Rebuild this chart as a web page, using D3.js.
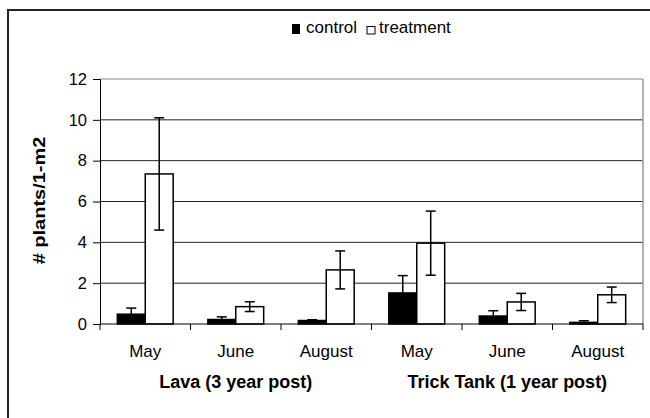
<!DOCTYPE html>
<html>
<head>
<meta charset="utf-8">
<script src="https://cdn.jsdelivr.net/npm/d3@7"></script>
<style>
  body { margin: 0; background: #fff; }
  text { font-family: "Liberation Sans", Arial, sans-serif; }
</style>
</head>
<body>
<svg id="chart" width="650" height="418"></svg>
<script>
var months = ["May", "June", "August", "May", "June", "August"];
var sites = ["Lava (3 year post)", "Trick Tank (1 year post)"];
var series = ["control", "treatment"];
var controlVals = [0.48, 0.22, 0.17, 1.52, 0.39, 0.08];
var controlErr = [0.3, 0.13, 0.04, 0.85, 0.26, 0.08];
var treatVals = [7.35, 0.85, 2.65, 3.96, 1.08, 1.43];
var treatErr = [2.75, 0.24, 0.93, 1.57, 0.42, 0.38];
var yTicks = [0, 2, 4, 6, 8, 10, 12];

var width = 650, height = 418;
var margin = {top: 79, right: 7, bottom: 94, left: 100};

var svg = d3.select("#chart");

// outer frame (runs off the right/bottom edge)
svg.append("rect")
    .attr("x", 8).attr("y", 10)
    .attr("width", 700).attr("height", 500)
    .attr("fill", "none")
    .attr("stroke", "#222")
    .attr("stroke-width", 2);

var x = d3.scaleBand()
    .domain(d3.range(months.length))
    .range([margin.left, width - margin.right]);

var xInner = d3.scaleBand()
    .domain(series)
    .range([0, x.bandwidth()])
    .paddingOuter(0.62)
    .paddingInner(0);

var y = d3.scaleLinear()
    .domain([0, 12])
    .range([height - margin.bottom, margin.top]);

// gridlines
svg.append("g")
  .selectAll("line")
  .data(yTicks.filter(function(d) { return d > 0; }))
  .enter().append("line")
    .attr("x1", margin.left).attr("x2", width - margin.right)
    .attr("y1", function(d) { return y(d); })
    .attr("y2", function(d) { return y(d); })
    .attr("stroke", function(d) { return d == 12 ? "#888" : "#222"; })
    .attr("stroke-width", 1);

// plot area right border
svg.append("line")
    .attr("x1", width - margin.right).attr("x2", width - margin.right)
    .attr("y1", y(12)).attr("y2", y(0))
    .attr("stroke", "#999").attr("stroke-width", 1.5);

// y axis
var yAxis = d3.axisLeft(y).tickValues(yTicks).tickSize(7).tickPadding(6);
var gy = svg.append("g")
    .attr("transform", "translate(" + margin.left + ",0)")
    .call(yAxis);
gy.select(".domain").attr("stroke", "#000");
gy.selectAll(".tick line").attr("stroke", "#000");
gy.selectAll("text").attr("font-size", 16.5).attr("fill", "#000");

svg.append("text")
    .attr("transform", "translate(45," + (y(6) - 1) + ") rotate(-90) scale(1,0.78)")
    .attr("text-anchor", "middle")
    .attr("font-size", 20)
    .attr("font-weight", "bold")
    .text("# plants/1-m2");

var groups = svg.append("g").selectAll("g")
  .data(months)
  .enter().append("g")
    .attr("transform", function(d, i) { return "translate(" + x(i) + ",0)"; });

function drawSeries(name, vals, errs, fill) {
  groups.append("rect")
      .attr("x", xInner(name))
      .attr("width", xInner.bandwidth())
      .attr("y", function(d, i) { return y(vals[i]); })
      .attr("height", function(d, i) { return y(0) - y(vals[i]); })
      .attr("fill", fill)
      .attr("stroke", "#000")
      .attr("stroke-width", 1.5);

  var cx = xInner(name) + xInner.bandwidth() / 2;
  groups.append("line")
      .attr("x1", cx).attr("x2", cx)
      .attr("y1", function(d, i) { return y(vals[i] + errs[i]); })
      .attr("y2", function(d, i) { return y(Math.max(0, vals[i] - errs[i])); })
      .attr("stroke", "#000").attr("stroke-width", 1.5);
  [1, -1].forEach(function(s) {
    groups.append("line")
        .attr("x1", cx - 5).attr("x2", cx + 5)
        .attr("y1", function(d, i) { return y(Math.max(0, vals[i] + s * errs[i])); })
        .attr("y2", function(d, i) { return y(Math.max(0, vals[i] + s * errs[i])); })
        .attr("stroke", "#000").attr("stroke-width", 1.5);
  });
}

drawSeries("control", controlVals, controlErr, "#000");
drawSeries("treatment", treatVals, treatErr, "#fff");

// x axis
var gx = svg.append("g")
    .attr("transform", "translate(0," + y(0) + ")");
gx.append("line")
    .attr("x1", margin.left).attr("x2", width - margin.right)
    .attr("stroke", "#000").attr("stroke-width", 1);
gx.selectAll(".tk")
  .data(d3.range(months.length + 1))
  .enter().append("line")
    .attr("class", "tk")
    .attr("x1", function(d) { return margin.left + d * x.step(); })
    .attr("x2", function(d) { return margin.left + d * x.step(); })
    .attr("y1", 0).attr("y2", 6)
    .attr("stroke", "#000");
gx.selectAll(".mlab")
  .data(months)
  .enter().append("text")
    .attr("class", "mlab")
    .attr("x", function(d, i) { return x(i) + x.bandwidth() / 2; })
    .attr("y", 33)
    .attr("text-anchor", "middle")
    .attr("font-size", 17)
    .text(function(d) { return d; });
gx.selectAll(".slab")
  .data(sites)
  .enter().append("text")
    .attr("class", "slab")
    .attr("x", function(d, i) { return x(i * 3) + 1.5 * x.step(); })
    .attr("y", 64)
    .attr("text-anchor", "middle")
    .attr("font-size", 18)
    .attr("font-weight", "bold")
    .text(function(d) { return d; });

// legend
var legend = svg.append("g");
legend.append("rect")
    .attr("x", 292).attr("y", 24).attr("width", 8).attr("height", 10)
    .attr("fill", "#000");
legend.append("text")
    .attr("x", 306).attr("y", 33)
    .attr("font-size", 17)
    .text(series[0]);
legend.append("rect")
    .attr("x", 367).attr("y", 26.5).attr("width", 8).attr("height", 7.5)
    .attr("fill", "#fff").attr("stroke", "#000").attr("stroke-width", 1);
legend.append("text")
    .attr("x", 379).attr("y", 33)
    .attr("font-size", 17)
    .text(series[1]);
</script>
</body>
</html>
